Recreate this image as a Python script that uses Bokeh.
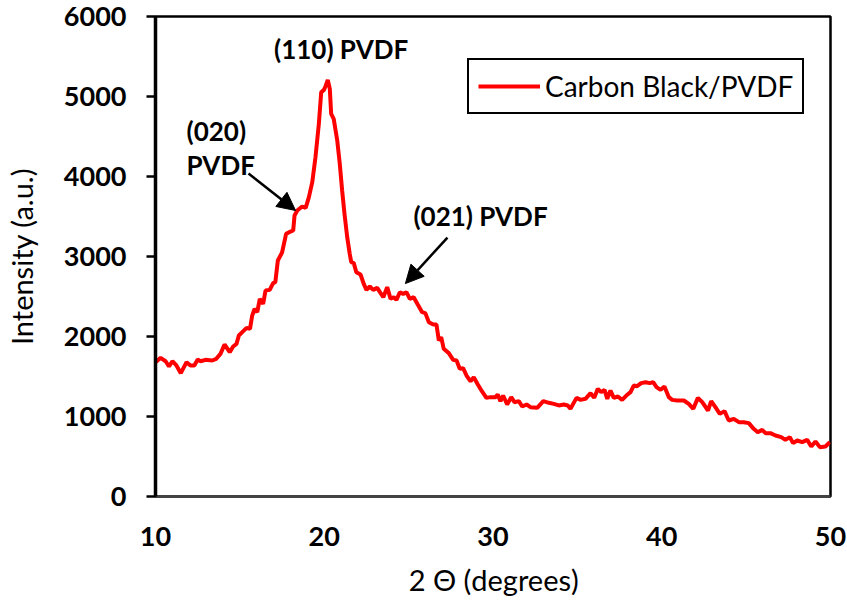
from bokeh.plotting import figure
from bokeh.models import (FixedTicker, Legend, LegendItem, Arrow, NormalHead,
                          ColumnDataSource, Range1d)
from bokeh.core.properties import value
from bokeh.embed import file_html
from bokeh.resources import INLINE

# ---- data ----
two_theta = [10.0, 10.3, 10.6, 10.8, 11.0, 11.24, 11.5, 11.84, 12.07, 12.3, 12.5, 12.67,
             12.96, 13.36, 13.6, 13.85, 14.09, 14.4, 14.6, 14.8, 14.94, 15.14, 15.4, 15.6,
             15.73, 15.87, 16.03, 16.18, 16.38, 16.52, 16.77, 16.97, 17.1, 17.25, 17.5,
             17.74, 18.0, 18.16, 18.24, 18.4, 18.69, 18.9, 19.09, 19.29, 19.48, 19.68,
             19.82, 19.98, 20.07, 20.21, 20.33, 20.41, 20.56, 20.77, 20.92, 21.06, 21.2,
             21.36, 21.51, 21.6, 21.75, 21.9, 22.15, 22.34, 22.5, 22.7, 22.9, 23.14, 23.3,
             23.5, 23.73, 23.93, 24.12, 24.28, 24.48, 24.68, 24.87, 25.07, 25.3, 25.54,
             25.8, 25.99, 26.2, 26.46, 26.65, 26.79, 26.93, 27.08, 27.38, 27.64, 27.84,
             28.03, 28.23, 28.43, 28.67, 28.86, 29.1, 29.36, 29.61, 29.85, 30.15, 30.28,
             30.44, 30.6, 30.84, 31.08, 31.27, 31.53, 31.73, 31.99, 32.22, 32.62, 32.98,
             33.31, 33.6, 33.9, 34.2, 34.43, 34.59, 34.95, 35.19, 35.48, 35.78, 36.0,
             36.21, 36.41, 36.61, 36.77, 36.96, 37.16, 37.4, 37.65, 37.9, 38.15, 38.34,
             38.54, 38.78, 39.04, 39.29, 39.49, 39.69, 39.93, 40.16, 40.42, 40.62, 40.91,
             41.31, 41.6, 41.87, 42.14, 42.4, 42.74, 42.93, 43.18, 43.44, 43.72, 43.97,
             44.27, 44.57, 44.86, 45.16, 45.45, 45.69, 45.95, 46.15, 46.44, 46.74, 47.08,
             47.33, 47.59, 47.78, 48.03, 48.32, 48.62, 48.86, 49.11, 49.37, 49.7, 49.96]
intensity = [1680, 1733, 1691, 1625, 1691, 1638, 1542, 1679, 1638, 1638, 1712, 1691,
             1708, 1700, 1721, 1783, 1900, 1804, 1875, 1908, 2012, 2054, 2108, 2096,
             2262, 2346, 2304, 2471, 2408, 2575, 2583, 2667, 2679, 2950, 3050,
             3283, 3312, 3325, 3512, 3575, 3625, 3608, 3742, 3929, 4242, 4658,
             5054, 5083, 5125, 5208, 5096, 4783, 4721, 4450, 4158, 3825, 3533,
             3242, 3033, 2929, 2917, 2804, 2775, 2658, 2583, 2625, 2583, 2608, 2554,
             2491, 2617, 2471, 2491, 2458, 2554, 2533, 2554, 2471, 2491, 2400,
             2304, 2292, 2179, 2150, 2150, 1950, 1992, 1846, 1792, 1708, 1700,
             1596, 1604, 1512, 1441, 1491, 1400, 1310, 1233, 1242, 1242, 1275,
             1192, 1262, 1150, 1242, 1179, 1192, 1125, 1150, 1117, 1108, 1192,
             1171, 1158, 1138, 1150, 1138, 1096, 1233, 1208, 1221, 1292, 1233,
             1346, 1304, 1333, 1221, 1325, 1233, 1250, 1208, 1262, 1304, 1387,
             1379, 1417, 1429, 1417, 1429, 1367, 1333, 1375, 1242, 1208, 1200,
             1200, 1158, 1096, 1233, 1179, 1075, 1192, 1117, 1033, 1067, 950,
             971, 929, 929, 917, 846, 804, 833, 792, 792, 763, 742,
             708, 742, 667, 700, 679, 708, 625, 688, 617, 625, 679]

series_name = "Carbon Black/PVDF"
x_ticks = [10, 20, 30, 40, 50]
y_ticks = [0, 1000, 2000, 3000, 4000, 5000, 6000]

ann_text = ["(110) PVDF", "(020)", "PVDF", "(021) PVDF"]
ann_x = [21.0, 11.84, 11.84, 29.26]
ann_y = [5600, 4575, 4150, 3512]
ann_align = ["center", "left", "left", "center"]

arrow_start_x = [15.51, 27.30]
arrow_start_y = [4037, 3237]
arrow_end_x = [18.30, 24.81]
arrow_end_y = [3575, 2662]

FONT = "Lato"

p = figure(width=847, height=606, output_backend="svg", toolbar_location=None,
           x_range=Range1d(10, 50), y_range=Range1d(0, 6000),
           min_border_left=155, min_border_top=16, min_border_right=17,
           min_border_bottom=110)
p.background_fill_color = "white"
p.border_fill_color = "white"
p.xgrid.visible = False
p.ygrid.visible = False
p.outline_line_color = "black"
p.outline_line_width = 2.5

# axes
p.xaxis.ticker = FixedTicker(ticks=x_ticks)
p.yaxis.ticker = FixedTicker(ticks=y_ticks)
for ax in (p.xaxis, p.yaxis):
    ax.major_label_text_font = FONT
    ax.major_label_text_font_style = "bold"
    ax.major_label_text_font_size = "27px"
    ax.major_label_text_color = "black"
    ax.axis_label_text_font = FONT
    ax.axis_label_text_font_style = "normal"
    ax.axis_label_text_font_size = "29px"
    ax.axis_label_text_color = "black"
    ax.minor_tick_line_color = None

p.xaxis.axis_label = "2 \u0398 (degrees)"
p.yaxis.axis_label = "Intensity (a.u.)"
p.xaxis.major_tick_out = 0
p.xaxis.major_tick_in = 0
p.xaxis.major_label_standoff = 30
p.xaxis.axis_label_standoff = 13
p.xaxis.axis_line_color = "#444444"
p.xaxis.axis_line_width = 2.5

p.yaxis.major_tick_out = 9
p.yaxis.major_tick_in = 0
p.yaxis.major_tick_line_width = 2.5
p.yaxis.major_tick_line_color = "black"
p.yaxis.axis_line_width = 3.5
p.yaxis.axis_line_color = "black"
p.yaxis.major_label_standoff = 20
p.yaxis.axis_label_standoff = 22

src = ColumnDataSource(dict(x=two_theta, y=intensity))
r = p.line("x", "y", source=src, line_color="#FF0000", line_width=4)

legend = Legend(items=[LegendItem(label=series_name, renderers=[r])],
                location=(312, 382))
legend.border_line_color = "black"
legend.border_line_alpha = 1.0
legend.border_line_width = 2.5
legend.padding = 9
legend.glyph_width = 62
legend.label_standoff = 5
legend.label_text_font = FONT
legend.label_text_font_size = "28px"
legend.label_text_color = "black"
legend.background_fill_alpha = 1.0
p.add_layout(legend, "center")

# annotations
asrc = ColumnDataSource(dict(x=ann_x, y=ann_y, t=ann_text, a=ann_align))
p.text("x", "y", text="t", source=asrc, text_align="a", text_baseline="middle",
       text_font=value(FONT), text_font_style="bold", text_font_size="26px",
       text_color="black")

for i in range(len(arrow_start_x)):
    p.add_layout(Arrow(end=NormalHead(size=18, fill_color="black", line_color="black"),
                       x_start=arrow_start_x[i], y_start=arrow_start_y[i],
                       x_end=arrow_end_x[i], y_end=arrow_end_y[i],
                       line_color="black", line_width=2.5))

open("out.html", "w").write(file_html(p, INLINE))
